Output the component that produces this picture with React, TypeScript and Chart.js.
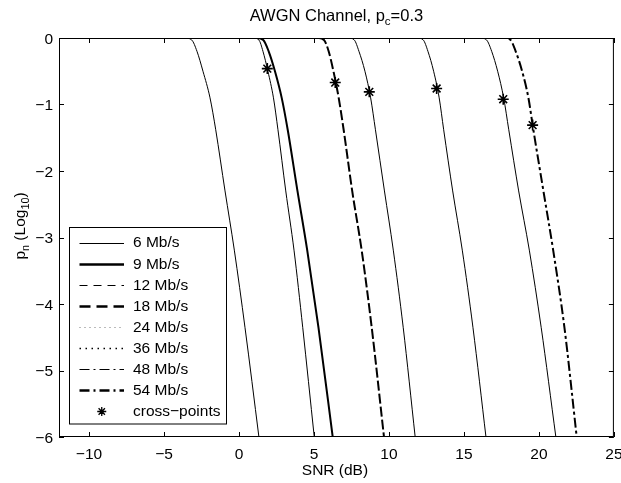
import React, { useEffect, useRef } from "react";
import { Chart, registerables } from "chart.js";

Chart.register(...registerables);

// ---------- data ----------
const seriesLabels = ["6 Mb/s", "9 Mb/s", "12 Mb/s", "18 Mb/s", "24 Mb/s", "36 Mb/s", "48 Mb/s", "54 Mb/s"];

// p_n (log10) levels at which each curve's SNR was read
const pnLevels = [0, 0, -0.03, -0.2, -0.5, -0.9, -1.38, -2.3, -3.19, -4.35, -6];

const snr6 = [-12, -3.6, -3.15, -2.8, -2.4, -1.93, -1.55, -0.93, -0.31, 0.4, 1.33];
const snr9 = [-12, 1.2, 1.62, 1.98, 2.4, 2.85, 3.25, 3.9, 4.55, 5.3, 6.25];
const snr12 = [-12, 0.95, 1.33, 1.6, 1.93, 2.3, 2.6, 3.12, 3.67, 4.25, 5.02];
const snr18 = [-12, 5.3, 5.67, 5.98, 6.3, 6.65, 6.98, 7.55, 8.18, 8.85, 9.67];
const snr24 = [-12, 7.3, 7.69, 8.0, 8.4, 8.78, 9.1, 9.7, 10.29, 10.95, 11.75];
const snr36 = [-12, 11.9, 12.29, 12.6, 12.98, 13.35, 13.65, 14.25, 14.89, 15.6, 16.47];
const snr48 = [-12, 16.1, 16.51, 16.85, 17.25, 17.65, 17.99, 18.65, 19.36, 20.15, 21.13];
const snr54 = [-12, 17.7, 18.11, 18.45, 18.88, 19.3, 19.63, 20.3, 20.95, 21.7, 22.52];
const seriesSnr = [snr6, snr9, snr12, snr18, snr24, snr36, snr48, snr54];

const crossLabel = "cross\u2212points";
const crossSnr = [1.89, 6.42, 8.69, 13.18, 17.62, 19.58];
const crossPn = [-0.46, -0.67, -0.81, -0.76, -0.92, -1.31];

const xTicks = [-10, -5, 0, 5, 10, 15, 20, 25];
const yTicks = [0, -1, -2, -3, -4, -5, -6];

// ---------- styles ----------
const FONT = "'Liberation Sans', Arial, Helvetica, sans-serif";
const plotWidth = [1, 2, 1, 2, 1, 1, 1, 2];
const plotDash: number[][] = [[], [], [], [10, 3], [], [], [], [10, 3, 3, 3]];
const legendWidth = [1, 2.4, 1, 2.4, 1, 1.6, 1, 2.4];
const legendDash: number[][] = [[], [], [8, 6], [11, 6], [1, 4], [1.5, 4.5], [10, 4, 2, 4], [10, 4, 2, 4]];
const legendColor = ["#000", "#000", "#000", "#000", "#777", "#000", "#000", "#000"];

const fmt = (v: number) => (v < 0 ? "\u2212" + Math.abs(v) : String(v));

type Part = { t: string; sub?: boolean };
function drawParts(ctx: CanvasRenderingContext2D, parts: Part[], cx: number, y: number, size: number) {
  const subSize = size * 0.7;
  const widths = parts.map((p) => {
    ctx.font = `${p.sub ? subSize : size}px ${FONT}`;
    return ctx.measureText(p.t).width;
  });
  const total = widths.reduce((a, b) => a + b, 0);
  let x = cx - total / 2;
  ctx.textAlign = "left";
  ctx.textBaseline = "alphabetic";
  parts.forEach((p, i) => {
    ctx.font = `${p.sub ? subSize : size}px ${FONT}`;
    ctx.fillText(p.t, x, p.sub ? y + size * 0.3 : y);
    x += widths[i];
  });
}

function drawStar(ctx: CanvasRenderingContext2D, x: number, y: number, r: number) {
  ctx.beginPath();
  for (let k = 0; k < 4; k++) {
    const a = (k * Math.PI) / 4;
    ctx.moveTo(x - r * Math.cos(a), y - r * Math.sin(a));
    ctx.lineTo(x + r * Math.cos(a), y + r * Math.sin(a));
  }
  ctx.stroke();
}

const matlabPlugin = {
  id: "matlabDecor",
  afterDraw(chart: any) {
    const { ctx, chartArea: a, scales } = chart;
    ctx.save();
    ctx.strokeStyle = "#000";
    ctx.fillStyle = "#000";
    ctx.lineWidth = 1;
    ctx.setLineDash([]);
    // frame
    ctx.strokeRect(a.left + 0.5, a.top + 0.5, a.right - a.left - 1, a.bottom - a.top - 1);
    // inward ticks
    const tl = 5;
    ctx.beginPath();
    xTicks.forEach((v) => {
      const px = Math.round(scales.x.getPixelForValue(v)) + 0.5;
      ctx.moveTo(px, a.bottom);
      ctx.lineTo(px, a.bottom - tl);
      ctx.moveTo(px, a.top);
      ctx.lineTo(px, a.top + tl);
    });
    yTicks.forEach((v) => {
      const py = Math.round(scales.y.getPixelForValue(v)) + 0.5;
      ctx.moveTo(a.left, py);
      ctx.lineTo(a.left + tl, py);
      ctx.moveTo(a.right, py);
      ctx.lineTo(a.right - tl, py);
    });
    ctx.stroke();

    // title
    drawParts(ctx, [{ t: "AWGN Channel, p" }, { t: "c", sub: true }, { t: "=0.3" }], (a.left + a.right) / 2, 20.5, 16.5);
    // x label
    drawParts(ctx, [{ t: "SNR (dB)" }], (a.left + a.right) / 2 - 1.5, 475, 15.5);
    // y label
    ctx.save();
    ctx.translate(24.5, 226);
    ctx.rotate(-Math.PI / 2);
    drawParts(ctx, [{ t: "p" }, { t: "n", sub: true }, { t: " (Log" }, { t: "10", sub: true }, { t: ")" }], 0, 0, 15.5);
    ctx.restore();

    // legend box
    const lx = a.left + 10.5;
    const ly = 227.5;
    const lw = 157;
    const lh = 196.5;
    ctx.fillStyle = "#fff";
    ctx.fillRect(lx, ly, lw, lh);
    ctx.strokeStyle = "#000";
    ctx.lineWidth = 1;
    ctx.strokeRect(lx, ly, lw, lh);
    const rowY0 = 242.7;
    const rowStep = 21.1;
    const x0 = lx + 10;
    const x1 = lx + 54.5;
    const tx = lx + 63.5;
    ctx.font = `15.5px ${FONT}`;
    ctx.textAlign = "left";
    ctx.textBaseline = "middle";
    seriesLabels.forEach((lab, i) => {
      const y = rowY0 + i * rowStep;
      ctx.save();
      ctx.strokeStyle = legendColor[i];
      ctx.lineWidth = legendWidth[i];
      ctx.setLineDash(legendDash[i]);
      ctx.beginPath();
      ctx.moveTo(x0, Math.round(y) + 0.5);
      ctx.lineTo(x1, Math.round(y) + 0.5);
      ctx.stroke();
      ctx.restore();
      ctx.fillStyle = "#000";
      ctx.fillText(lab, tx, y + 0.5);
    });
    const cy = rowY0 + seriesLabels.length * rowStep;
    ctx.strokeStyle = "#000";
    ctx.lineWidth = 1.3;
    ctx.setLineDash([]);
    drawStar(ctx, (x0 + x1) / 2, cy, 4.5);
    ctx.fillStyle = "#000";
    ctx.fillText(crossLabel, tx, cy + 0.5);
    ctx.restore();
  },
};

export default function App() {
  const ref = useRef<HTMLCanvasElement | null>(null);
  useEffect(() => {
    if (!ref.current) return;
    const datasets: any[] = seriesLabels.map((lab, i) => ({
      type: "line",
      label: lab,
      data: seriesSnr[i].map((x, j) => ({ x, y: pnLevels[j] })),
      borderColor: "#000",
      backgroundColor: "#000",
      borderWidth: plotWidth[i],
      borderDash: plotDash[i],
      pointRadius: 0,
      fill: false,
      cubicInterpolationMode: "monotone",
    }));
    datasets.push({
      type: "scatter",
      label: crossLabel,
      data: crossSnr.map((x, j) => ({ x, y: crossPn[j] })),
      borderColor: "#000",
      backgroundColor: "#000",
      pointStyle: "star",
      pointRadius: 5.5,
      borderWidth: 1.6,
      showLine: false,
    });
    const tickFont = { family: FONT, size: 15.5 };
    const chart = new Chart(ref.current, {
      type: "line",
      data: { datasets },
      options: {
        animation: false,
        responsive: false,
        devicePixelRatio: 1,
        layout: { padding: { top: 38, right: 7, left: 0, bottom: 0 } },
        plugins: { legend: { display: false }, tooltip: { enabled: false }, title: { display: false } },
        scales: {
          x: {
            type: "linear",
            min: -12,
            max: 25,
            grid: { display: false, drawTicks: false },
            border: { display: false },
            ticks: { color: "#000", font: tickFont, padding: 8, maxRotation: 0, autoSkip: false, callback: (v: any) => fmt(Number(v)) },
            afterBuildTicks: (s: any) => {
              s.ticks = xTicks.map((value) => ({ value }));
            },
            afterFit: (s: any) => {
              s.height = 46;
              s.paddingLeft = 0;
              s.paddingRight = 0;
            },
          },
          y: {
            type: "linear",
            min: -6,
            max: 0,
            grid: { display: false, drawTicks: false },
            border: { display: false },
            ticks: { color: "#000", font: tickFont, padding: 6, labelOffset: 1.5, autoSkip: false, callback: (v: any) => fmt(Number(v)) },
            afterBuildTicks: (s: any) => {
              s.ticks = yTicks.map((value) => ({ value }));
            },
            afterFit: (s: any) => {
              s.width = 59;
              s.paddingTop = 0;
              s.paddingBottom = 0;
            },
          },
        },
      },
      plugins: [matlabPlugin],
    } as any);
    return () => chart.destroy();
  }, []);
  return (
    <div style={{ position: "absolute", left: 0, top: 0, width: 621, height: 483, background: "#fff" }}>
      <canvas ref={ref} width={621} height={483} style={{ display: "block" }} />
    </div>
  );
}
